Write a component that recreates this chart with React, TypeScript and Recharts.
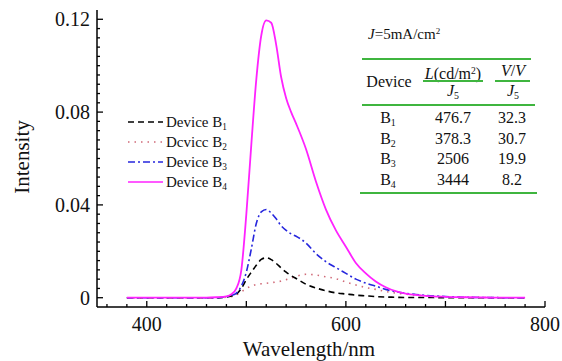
import React from "react";
import { LineChart, Line, XAxis, YAxis } from "recharts";

const wavelengths = [
  380, 400, 420, 440, 460, 470, 480, 485, 490, 495, 500, 505, 510, 515, 520,
  525, 530, 535, 540, 545, 550, 560, 570, 580, 590, 600, 610, 620, 630, 640,
  650, 660, 670, 680, 700, 720, 740, 760, 780,
];

const deviceB1 = [
  0, 0, 0, 0, 0, 0, 0.0003, 0.0007, 0.0015, 0.004, 0.0078, 0.011, 0.014,
  0.0165, 0.0172, 0.0164, 0.0148, 0.0128, 0.011, 0.0095, 0.0083, 0.0058,
  0.0042, 0.003, 0.0021, 0.0016, 0.0011, 0.0008, 0.0005, 0.0003, 0.0002,
  0.0001, 0.0001, 0.0001, 0, 0, 0, 0, 0,
];

const deviceB2 = [
  0, 0, 0, 0, 0, 0, 0.0002, 0.0005, 0.0012, 0.0025, 0.004, 0.005, 0.0057,
  0.006, 0.0062, 0.0065, 0.0068, 0.0072, 0.0078, 0.0085, 0.0092, 0.0101,
  0.0098, 0.009, 0.0082, 0.0068, 0.0055, 0.0044, 0.0036, 0.0027, 0.002,
  0.0015, 0.0011, 0.0008, 0.0004, 0.0002, 0.0001, 0, 0,
];

const deviceB3 = [
  0, 0, 0, 0, 0, 0, 0.0004, 0.001, 0.002, 0.005, 0.011, 0.021, 0.032, 0.037,
  0.038, 0.0365, 0.034, 0.031, 0.029, 0.0275, 0.0265, 0.0235, 0.019, 0.0155,
  0.013, 0.0105, 0.008, 0.0063, 0.005, 0.0036, 0.0026, 0.0019, 0.0014, 0.001,
  0.0005, 0.0002, 0.0001, 0, 0,
];

const deviceB4 = [
  0, 0, 0, 0, 0, 0.0002, 0.0006, 0.0015, 0.004, 0.012, 0.036, 0.066, 0.094,
  0.113, 0.1195, 0.1185, 0.109, 0.095, 0.086, 0.08, 0.075, 0.064, 0.05, 0.038,
  0.029, 0.022, 0.015, 0.0105, 0.007, 0.0045, 0.0028, 0.0018, 0.0012, 0.0008,
  0.0004, 0.0002, 0.0001, 0, 0,
];

const xLabelTicks = [400, 600, 800];
const yLabelTicks = [0, 0.04, 0.08, 0.12];
const xTicks = Array.from({ length: 23 }, (_, i) => 360 + i * 20);
const yTicks = Array.from({ length: 31 }, (_, i) => +(i * 0.004).toFixed(3));

const tableRows = [
  { device: "1", lum: "476.7", volt: "32.3" },
  { device: "2", lum: "378.3", volt: "30.7" },
  { device: "3", lum: "2506", volt: "19.9" },
  { device: "4", lum: "3444", volt: "8.2" },
];

const data = wavelengths.map((w, i) => ({
  w,
  b1: deviceB1[i],
  b2: deviceB2[i],
  b3: deviceB3[i],
  b4: deviceB4[i],
}));

const FONT = "'Liberation Serif', 'Times New Roman', serif";
const GREEN = "#3fb53f";

const XTick = (props: any) => {
  const { x, y, payload } = props;
  const v = payload.value;
  const len = v % 100 === 0 ? 6 : 3;
  return (
    <g>
      <line x1={x} x2={x} y1={y} y2={y - len} stroke="#000" strokeWidth={1.3} />
      {xLabelTicks.includes(v) && (
        <text x={x} y={y + 24} textAnchor="middle" fontSize={20} fontFamily={FONT} fill="#111">
          {v}
        </text>
      )}
    </g>
  );
};

const YTick = (props: any) => {
  const { x, y, payload } = props;
  const v = payload.value;
  const major = yLabelTicks.some((t) => Math.abs(t - v) < 1e-6);
  return (
    <g>
      <line x1={x} x2={x + (major ? 6 : 3)} y1={y} y2={y} stroke="#000" strokeWidth={1.3} />
      {major && (
        <text x={x - 7} y={y + 7} textAnchor="end" fontSize={20} fontFamily={FONT} fill="#111">
          {String(v)}
        </text>
      )}
    </g>
  );
};

const Txt = ({ x, y, children, size = 16, anchor = "center" }: any) => (
  <div
    style={{
      position: "absolute",
      left: anchor === "center" ? x - 100 : x,
      top: y - size / 2 - 2,
      width: anchor === "center" ? 200 : undefined,
      textAlign: anchor === "center" ? "center" : "left",
      fontFamily: FONT,
      fontSize: size,
      lineHeight: `${size + 4}px`,
      color: "#111",
      whiteSpace: "nowrap",
    }}
  >
    {children}
  </div>
);

const Sub = ({ children }: any) => (
  <sub style={{ fontSize: "0.62em", verticalAlign: "-0.35em" }}>{children}</sub>
);

const legendItems = [
  { label: "Device B", sub: "1", color: "#000", dash: "6 4" },
  { label: "Dcvicc B", sub: "2", color: "#d06a78", dash: "1.5 5" },
  { label: "Device B", sub: "3", color: "#2626dd", dash: "7 3 2 3" },
  { label: "Device B", sub: "4", color: "#ff22ff", dash: "" },
];

const HLine = ({ x1, x2, y, color = GREEN, w = 2 }: any) => (
  <div
    style={{
      position: "absolute",
      left: x1,
      top: y - w / 2,
      width: x2 - x1,
      height: w,
      background: color,
    }}
  />
);

export default function App() {
  return (
    <div style={{ position: "absolute", left: 0, top: 0, width: 562, height: 361, background: "#fff" }}>
      <LineChart
        width={562}
        height={361}
        data={data}
        margin={{ top: 10, right: 17, bottom: 24, left: 47 }}
      >
        <XAxis
          dataKey="w"
          type="number"
          domain={[350, 800]}
          ticks={xTicks}
          interval={0}
          allowDataOverflow
          tickLine={false}
          tickSize={0}
          tickMargin={0}
          height={30}
          tick={<XTick />}
          axisLine={{ stroke: "#000", strokeWidth: 1.5 }}
        />
        <XAxis
          xAxisId="top"
          dataKey="w"
          type="number"
          domain={[350, 800]}
          orientation="top"
          height={0}
          tick={false}
          tickLine={false}
          axisLine={{ stroke: "#000", strokeWidth: 1.5 }}
        />
        <YAxis
          type="number"
          domain={[-0.004, 0.124]}
          ticks={yTicks}
          interval={0}
          allowDataOverflow
          tickLine={false}
          tickSize={0}
          tickMargin={0}
          width={50}
          tick={<YTick />}
          axisLine={{ stroke: "#000", strokeWidth: 1.5 }}
        />
        <YAxis
          yAxisId="right"
          orientation="right"
          width={0}
          tick={false}
          tickLine={false}
          axisLine={{ stroke: "#000", strokeWidth: 1.5 }}
        />
        <Line type="monotone" dataKey="b2" stroke="#d06a78" strokeWidth={1.6} strokeDasharray="1.5 5" dot={false} isAnimationActive={false} />
        <Line type="monotone" dataKey="b1" stroke="#000" strokeWidth={1.6} strokeDasharray="6 4" dot={false} isAnimationActive={false} />
        <Line type="monotone" dataKey="b3" stroke="#2626dd" strokeWidth={1.6} strokeDasharray="7 3 2 3" dot={false} isAnimationActive={false} />
        <Line type="monotone" dataKey="b4" stroke="#ff22ff" strokeWidth={1.8} dot={false} isAnimationActive={false} />
      </LineChart>

      {/* axis titles */}
      <Txt x={309} y={349} size={21}>Wavelength/nm</Txt>
      <div
        style={{
          position: "absolute",
          left: 22 - 100,
          top: 157 - 12,
          width: 200,
          textAlign: "center",
          fontFamily: FONT,
          fontSize: 21,
          lineHeight: "24px",
          color: "#111",
          transform: "rotate(-90deg)",
        }}
      >
        Intensity
      </div>

      {/* legend */}
      {legendItems.map((it, i) => {
        const cy = 122 + i * 20;
        return (
          <React.Fragment key={i}>
            <svg style={{ position: "absolute", left: 126, top: cy - 3 }} width={40} height={6}>
              <line x1={2} x2={37} y1={3} y2={3} stroke={it.color} strokeWidth={1.6} strokeDasharray={it.dash} />
            </svg>
            <Txt x={166} y={cy} size={15} anchor="left">
              {it.label}
              <Sub>{it.sub}</Sub>
            </Txt>
          </React.Fragment>
        );
      })}

      {/* table */}
      <Txt x={368} y={31} size={15} anchor="left">
        <i>J</i>=5mA/cm<sup style={{ fontSize: "0.6em", verticalAlign: "0.5em" }}>2</sup>
      </Txt>
      <HLine x1={362} x2={531} y={59} />
      <Txt x={389} y={82}>Device</Txt>
      <Txt x={453} y={71}>
        <i>L</i>(cd/m<sup style={{ fontSize: "0.6em", verticalAlign: "0.5em" }}>2</sup>)
      </Txt>
      <HLine x1={423} x2={483} y={81} w={1.5} />
      <Txt x={453} y={91}>
        <i>J</i>
        <Sub>5</Sub>
      </Txt>
      <Txt x={513} y={71}>
        <i>V</i>/<i>V</i>
      </Txt>
      <HLine x1={495} x2={530} y={81} w={1.5} />
      <Txt x={513} y={91}>
        <i>J</i>
        <Sub>5</Sub>
      </Txt>
      <HLine x1={362} x2={535} y={105} />
      {tableRows.map((r, i) => {
        const cy = 118 + i * 20.5;
        return (
          <React.Fragment key={i}>
            <Txt x={388} y={cy}>
              B<Sub>{r.device}</Sub>
            </Txt>
            <Txt x={453} y={cy}>{r.lum}</Txt>
            <Txt x={512} y={cy}>{r.volt}</Txt>
          </React.Fragment>
        );
      })}
      <HLine x1={360} x2={537} y={193} />
    </div>
  );
}
